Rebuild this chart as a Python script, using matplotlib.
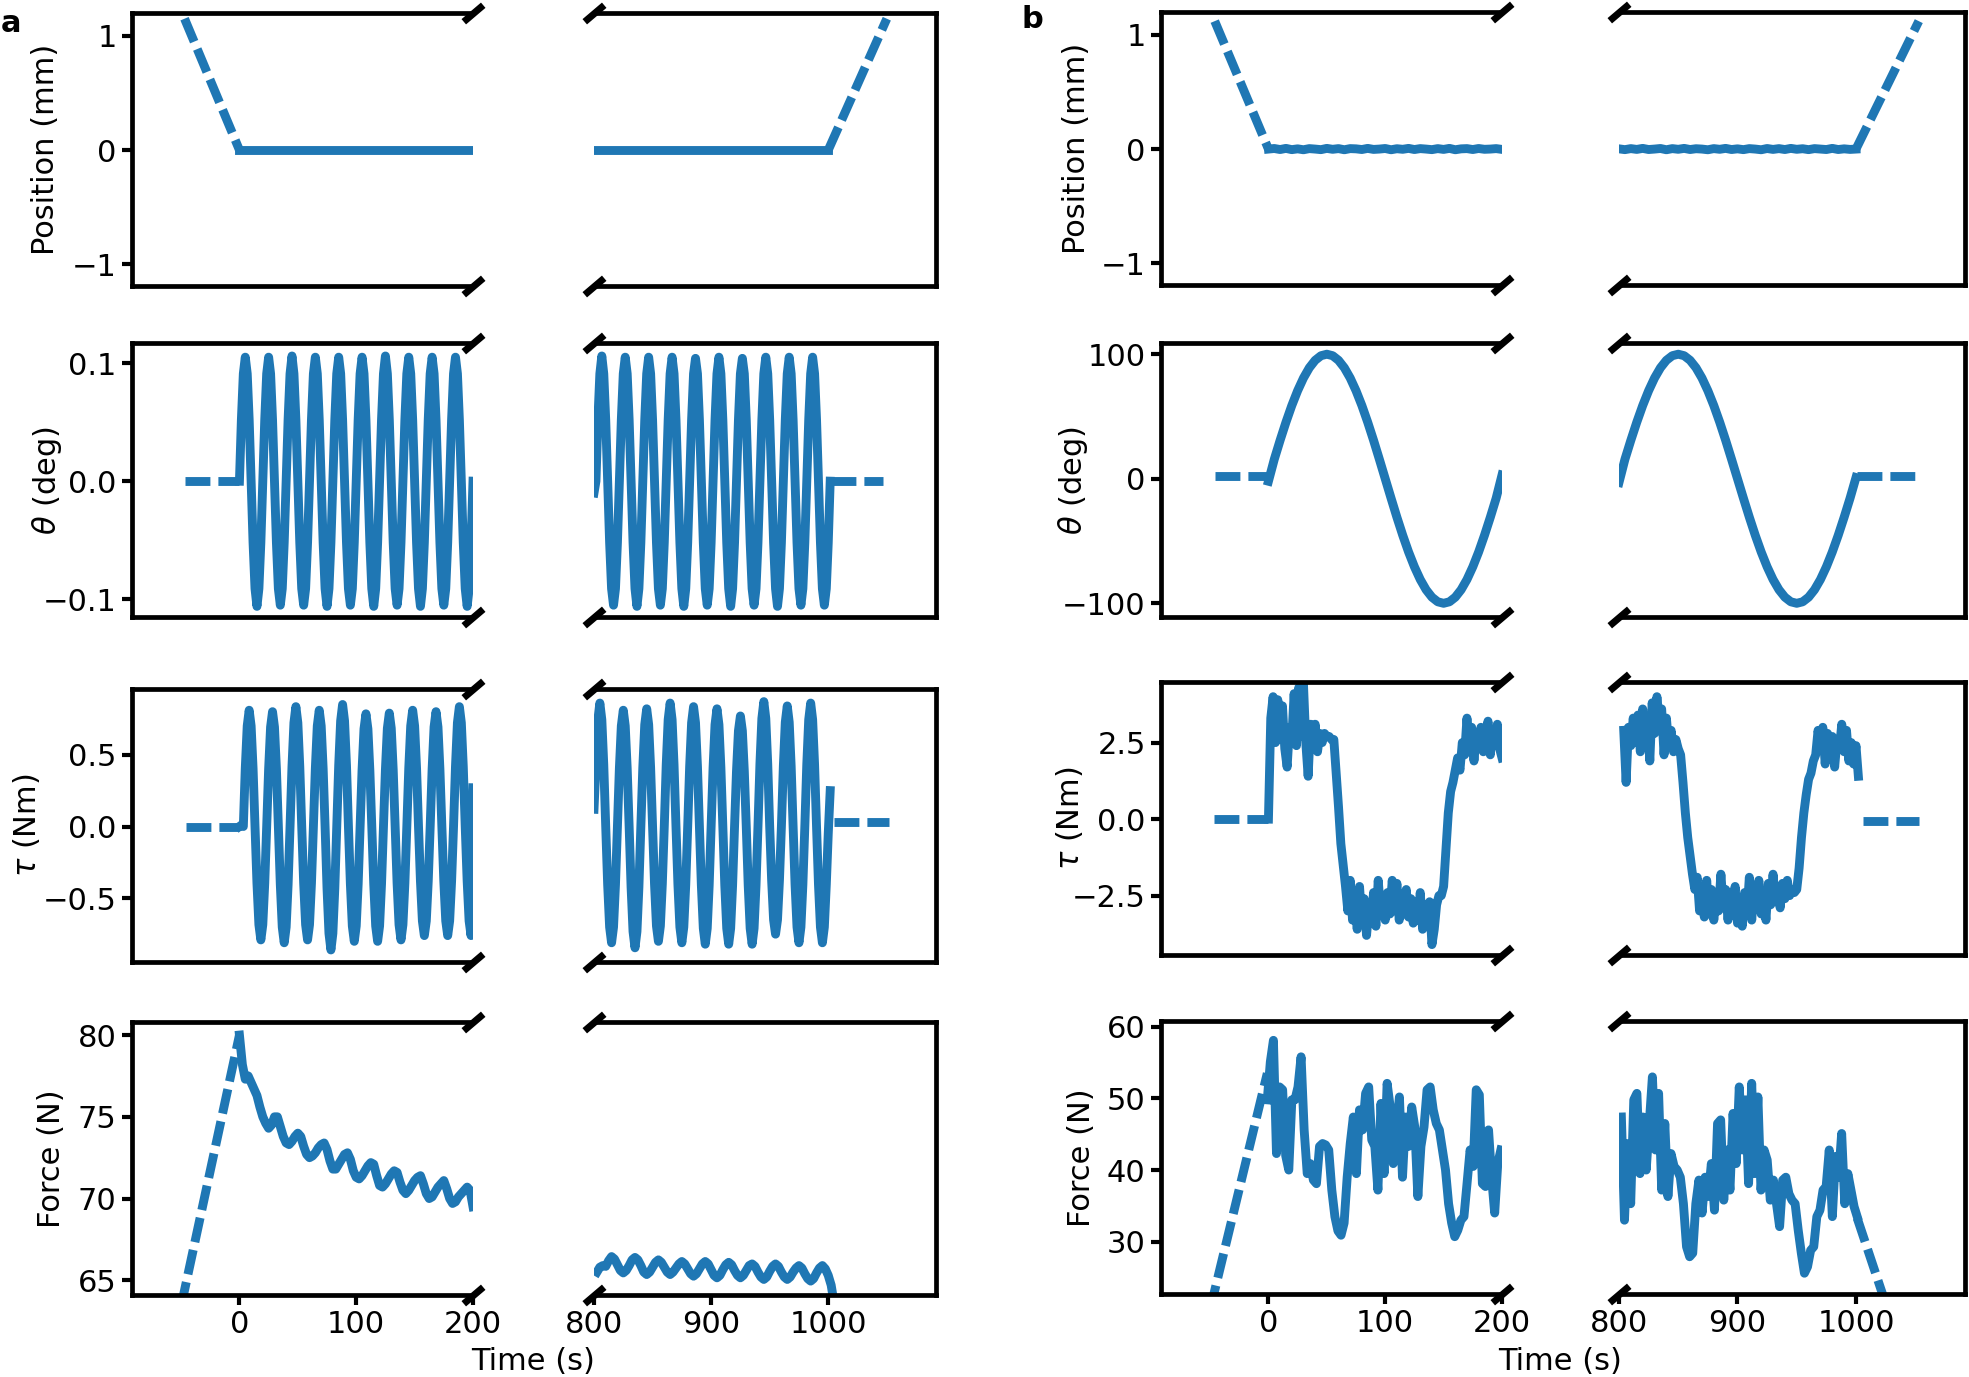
import numpy as np
import matplotlib
matplotlib.use("Agg")
import matplotlib.pyplot as plt

W, H = 1969, 1377
BLUE = "#1f77b4"
LW = 6.4
DASH = (0, (2.8, 0.9))

# ---------------- panel a ----------------
# position (mm)
a_pos_in_t, a_pos_in = [-47, 0], [1.15, 0.0]
a_pos_l_t, a_pos_l = [0, 200], [0.0, 0.0]
a_pos_r_t, a_pos_r = [800, 1000], [0.0, 0.0]
a_pos_out_t, a_pos_out = [1000, 1050], [0.0, 1.15]

# theta (deg), sampled every 5/3 s
a_th_in_t, a_th_in = [-47, 0], [0.0, 0.0]
a_th_l = [
    0.0, 0.052, 0.091, 0.105, 0.091, 0.052, 0.0, -0.052, -0.091, -0.106, -0.091, -0.052,
    0.0, 0.052, 0.091, 0.105, 0.091, 0.052, 0.0, -0.052, -0.091, -0.105, -0.091, -0.052,
    0.0, 0.052, 0.091, 0.106, 0.091, 0.052, 0.0, -0.052, -0.091, -0.105, -0.091, -0.052,
    0.0, 0.052, 0.091, 0.105, 0.091, 0.052, 0.0, -0.052, -0.091, -0.106, -0.091, -0.052,
    0.0, 0.052, 0.091, 0.105, 0.091, 0.052, 0.0, -0.052, -0.091, -0.105, -0.091, -0.052,
    0.0, 0.052, 0.091, 0.105, 0.091, 0.052, 0.0, -0.052, -0.091, -0.106, -0.091, -0.052,
    0.0, 0.052, 0.091, 0.106, 0.091, 0.052, 0.0, -0.052, -0.091, -0.105, -0.091, -0.052,
    0.0, 0.052, 0.091, 0.105, 0.091, 0.052, 0.0, -0.052, -0.091, -0.106, -0.091, -0.052,
    0.0, 0.052, 0.091, 0.105, 0.091, 0.052, 0.0, -0.052, -0.091, -0.105, -0.091, -0.052,
    0.0, 0.052, 0.091, 0.105, 0.091, 0.052, 0.0, -0.052, -0.091, -0.106, -0.091, -0.052,
    0.0]
a_th_r = [
    -0.01,
    0.0, 0.052, 0.091, 0.106, 0.091, 0.052, 0.0, -0.052, -0.091, -0.105, -0.091, -0.052,
    0.0, 0.052, 0.091, 0.105, 0.091, 0.052, 0.0, -0.052, -0.091, -0.106, -0.091, -0.052,
    0.0, 0.052, 0.091, 0.105, 0.091, 0.052, 0.0, -0.052, -0.091, -0.105, -0.091, -0.052,
    0.0, 0.052, 0.091, 0.105, 0.091, 0.052, 0.0, -0.052, -0.091, -0.106, -0.091, -0.052,
    0.0, 0.052, 0.091, 0.104, 0.091, 0.052, 0.0, -0.052, -0.091, -0.105, -0.091, -0.052,
    0.0, 0.052, 0.091, 0.105, 0.091, 0.052, 0.0, -0.052, -0.091, -0.106, -0.091, -0.052,
    0.0, 0.052, 0.091, 0.104, 0.091, 0.052, 0.0, -0.052, -0.091, -0.105, -0.091, -0.052,
    0.0, 0.052, 0.091, 0.105, 0.091, 0.052, 0.0, -0.052, -0.091, -0.106, -0.091, -0.052,
    0.0, 0.052, 0.091, 0.105, 0.091, 0.052, 0.0, -0.052, -0.091, -0.105, -0.091, -0.052,
    0.0, 0.052, 0.091, 0.105, 0.091, 0.052, 0.0, -0.052, -0.091, -0.105, -0.091, -0.052,
    0.0]
a_th_out_t, a_th_out = [1002, 1047], [0.0, 0.0]

# tau (Nm), sampled every 5/3 s
a_tau_in_t, a_tau_in = [-46, 0], [0.0, 0.0]
a_tau_l = [
    0.0, 0.01,
    0.0, 0.405, 0.701, 0.81, 0.701, 0.405, 0.0, -0.395, -0.684, -0.79, -0.684, -0.395,
    0.0, 0.40, 0.693, 0.80, 0.693, 0.40, 0.0, -0.405, -0.701, -0.81, -0.701, -0.405,
    0.0, 0.418, 0.723, 0.835, 0.723, 0.418, 0.0, -0.395, -0.684, -0.79, -0.684, -0.395,
    0.0, 0.405, 0.701, 0.81, 0.701, 0.405, 0.0, -0.43, -0.745, -0.86, -0.745, -0.43,
    0.0, 0.425, 0.736, 0.85, 0.736, 0.425, 0.0, -0.40, -0.693, -0.80, -0.693, -0.40,
    0.0, 0.393, 0.68, 0.785, 0.68, 0.393, 0.0, -0.40, -0.693, -0.80, -0.693, -0.40,
    0.0, 0.395, 0.684, 0.79, 0.684, 0.395, 0.0, -0.395, -0.684, -0.79, -0.684, -0.395,
    0.0, 0.405, 0.701, 0.81, 0.701, 0.405, 0.0, -0.38, -0.658, -0.76, -0.658, -0.38,
    0.0, 0.40, 0.693, 0.80, 0.693, 0.40, 0.0, -0.38, -0.658, -0.76, -0.658, -0.38,
    0.0, 0.418, 0.723, 0.835, 0.723, 0.418, 0.0, -0.38, -0.658, -0.76, 0.27]
a_tau_r = [
    0.12, 0.43, 0.745, 0.86, 0.745, 0.43, 0.0, -0.405, -0.701, -0.81, -0.701, -0.405,
    0.0, 0.405, 0.701, 0.81, 0.701, 0.405, 0.0, -0.423, -0.732, -0.845, -0.732, -0.423,
    0.0, 0.41, 0.71, 0.82, 0.71, 0.41, 0.0, -0.40, -0.693, -0.80, -0.693, -0.40,
    0.0, 0.43, 0.745, 0.86, 0.745, 0.43, 0.0, -0.405, -0.701, -0.81, -0.701, -0.405,
    0.0, 0.418, 0.723, 0.835, 0.723, 0.418, 0.0, -0.41, -0.71, -0.82, -0.71, -0.41,
    0.0, 0.41, 0.71, 0.82, 0.71, 0.41, 0.0, -0.41, -0.71, -0.82, -0.71, -0.41,
    0.0, 0.385, 0.667, 0.77, 0.667, 0.385, 0.0, -0.41, -0.71, -0.82, -0.71, -0.41,
    0.0, 0.435, 0.753, 0.87, 0.753, 0.435, 0.0, -0.375, -0.65, -0.75, -0.65, -0.375,
    0.0, 0.42, 0.727, 0.84, 0.727, 0.42, 0.0, -0.405, -0.701, -0.81, -0.701, -0.405,
    0.0, 0.43, 0.745, 0.86, 0.745, 0.43, 0.0, -0.405, -0.701, -0.81, -0.701, -0.405,
    -0.05, 0.25]
a_tau_out_t, a_tau_out = [1005, 1052], [0.03, 0.03]

# force (N), sampled every 2.5 s
a_f_in_t, a_f_in = [-50, 0], [63.4, 80.0]
a_f_l = [
    80.0, 78.2, 77.3, 77.5, 77.1, 76.7, 76.3, 75.6, 75.0, 74.6, 74.3, 74.5, 75.0,
    75.0, 74.4, 73.8, 73.4, 73.3, 73.5, 73.8, 74.0, 73.8, 73.2, 72.7, 72.5, 72.6,
    72.8, 73.1, 73.3, 73.4, 73.0, 72.3, 71.8, 71.8, 72.1, 72.4, 72.7, 72.8, 72.4,
    71.7, 71.3, 71.2, 71.4, 71.7, 72.0, 72.2, 72.1, 71.4, 70.8, 70.7, 70.9, 71.2,
    71.5, 71.7, 71.6, 71.0, 70.5, 70.3, 70.5, 70.8, 71.1, 71.3, 71.4, 70.9, 70.3,
    70.0, 70.1, 70.4, 70.7, 70.9, 71.1, 70.6, 70.0, 69.7, 69.8, 70.1, 70.3, 70.5,
    70.7, 70.5, 69.5]
a_f_r = [
    65.5, 65.8, 65.9, 65.85, 66.2, 66.45,
    66.3, 65.95, 65.6, 65.45, 65.6, 65.9, 66.25, 66.4,
    66.25, 65.9, 65.5, 65.35, 65.5, 65.8, 66.1, 66.25,
    66.1, 65.8, 65.5, 65.35, 65.5, 65.75, 66.0, 66.15,
    66.0, 65.7, 65.4, 65.25, 65.4, 65.7, 66.0, 66.15,
    66.0, 65.65, 65.3, 65.15, 65.3, 65.65, 65.95, 66.1,
    65.95, 65.6, 65.3, 65.15, 65.3, 65.6, 65.9, 66.0,
    65.85, 65.5, 65.2, 65.05, 65.2, 65.55, 65.85, 66.0,
    65.85, 65.5, 65.2, 65.05, 65.2, 65.5, 65.75, 65.9,
    65.75, 65.4, 65.1, 64.95, 65.1, 65.45, 65.75, 65.9,
    65.7, 65.3, 64.7, 63.6]

# ---------------- panel b ----------------
b_pos_in_t, b_pos_in = [-46, 0], [1.12, 0.0]
b_pos_l = [0.0, 0.005, -0.004, 0.006, -0.005, 0.002, -0.006, 0.004, 0.0, -0.005,
           0.006, -0.002, 0.004, -0.006, 0.004, 0.002, -0.004, 0.006, -0.003, 0.0,
           0.005, -0.006, 0.003, -0.002, 0.006, -0.004, 0.004, 0.0, -0.005, 0.004,
           -0.003, 0.006, -0.006, 0.002, 0.004, -0.004, 0.005, -0.002, 0.0, 0.004, -0.003]
b_pos_r = [0.002, -0.005, 0.004, -0.003, 0.006, -0.004, 0.0, 0.005, -0.006, 0.004,
           -0.002, 0.006, -0.004, 0.003, 0.0, -0.006, 0.004, -0.002, 0.006, -0.004,
           0.002, -0.005, 0.004, 0.0, -0.006, 0.005, -0.003, 0.004, -0.004, 0.006,
           -0.002, 0.003, -0.005, 0.004, 0.0, -0.004, 0.006, -0.004, 0.002, -0.003, 0.0]
b_pos_out_t, b_pos_out = [1000, 1053], [0.0, 1.12]

# theta (deg), every 5 s
b_th_in_t, b_th_in = [-46, -1], [2.5, 2.5]
b_th_l = [-2, 15.6, 30.9, 45.4, 58.8, 70.7, 80.9, 89.1, 95.1, 98.8, 100, 98.8, 95.1,
          89.1, 80.9, 70.7, 58.8, 45.4, 30.9, 15.6, 0, -15.6, -30.9, -45.4, -58.8,
          -70.7, -80.9, -89.1, -95.1, -98.8, -100, -98.8, -95.1, -89.1, -80.9, -70.7,
          -58.8, -45.4, -30.9, -15.6, 3]
b_th_r = [-3, 15.6, 30.9, 45.4, 58.8, 70.7, 80.9, 89.1, 95.1, 98.8, 100, 98.8, 95.1,
          89.1, 80.9, 70.7, 58.8, 45.4, 30.9, 15.6, 0, -15.6, -30.9, -45.4, -58.8,
          -70.7, -80.9, -89.1, -95.1, -98.8, -100, -98.8, -95.1, -89.1, -80.9, -70.7,
          -58.8, -45.4, -30.9, -15.6, 1]
b_th_out_t, b_th_out = [1001, 1053], [2.0, 2.0]

# tau (Nm), every 2 s
b_tau_in_t, b_tau_in = [-47, 0], [0.0, 0.0]
b_tau_l = [
    0.0, 3.3, 4.0, 2.5, 3.9, 2.6, 3.7, 2.3, 1.7, 3.0, 2.6, 4.1, 2.4, 4.3, 2.7, 4.4,
    2.5, 1.4, 3.1, 2.4, 3.1, 2.2, 2.8, 2.5, 2.8, 2.7, 2.7, 2.6, 2.6, 1.5, 0.4, -0.8,
    -1.5, -2.2, -3.0, -2.0, -3.3, -2.5, -3.6, -2.2, -3.4, -2.6, -3.8, -2.9, -3.4, -2.4,
    -3.5, -2.0, -3.0, -2.6, -3.3, -2.4, -3.1, -2.0, -3.0, -2.1, -3.3, -2.5, -3.1, -2.3,
    -3.2, -2.6, -3.4, -2.7, -3.3, -2.4, -3.6, -2.8, -3.5, -2.7, -4.1, -3.6, -2.8, -2.5,
    -2.5, -2.2, -1.0, 0.2, 0.9, 1.2, 1.6, 2.0, 1.6, 2.5, 2.1, 3.3, 2.2, 3.0, 1.9, 2.8,
    2.4, 3.0, 2.2, 2.6, 3.2, 2.1, 2.9, 2.4, 3.1, 2.3, 2.0]
b_tau_r = [
    2.9, 1.2, 3.0, 2.4, 3.3, 2.5, 3.4, 2.2, 3.6, 2.6, 3.2, 1.9, 3.8, 2.8, 4.0, 3.2,
    3.6, 2.1, 3.3, 2.4, 2.9, 2.2, 2.6, 2.3, 2.1, 1.2, 0.2, -0.6, -1.2, -1.8, -2.3, -1.9,
    -3.0, -2.5, -3.2, -2.0, -3.1, -2.3, -3.3, -2.5, -3.0, -1.8, -2.9, -2.3, -3.3, -2.4,
    -2.9, -2.2, -3.4, -2.6, -3.5, -2.4, -3.1, -1.9, -3.3, -2.2, -2.9, -2.0, -3.1, -2.4,
    -3.3, -2.1, -2.8, -1.8, -2.7, -2.2, -2.9, -2.1, -2.6, -2.0, -2.5, -2.3, -2.4, -2.3,
    -1.6, -0.6, 0.2, 0.8, 1.3, 1.5, 1.9, 2.1, 2.9, 2.3, 3.0, 1.8, 2.8, 2.2, 2.7, 1.7,
    2.6, 2.3, 3.1, 2.2, 2.9, 1.9, 2.5, 1.8, 2.4, 1.4]
b_tau_out_t, b_tau_out = [1006, 1053], [-0.05, -0.05]

# force (N), every ~2.6 s
b_f_in_t, b_f_in = [-50, -1], [20.5, 53.5]
b_f_l = [
    49.8, 55.1, 58.1, 42.3, 51.6, 51.2, 42.0, 40.0, 49.8, 49.8, 51.6, 55.8, 45.6,
    39.5, 40.9, 38.6, 38.1, 43.3, 43.7, 43.5, 42.8, 37.2, 33.5, 31.5, 30.9, 32.6,
    39.0, 43.7, 47.4, 39.5, 48.4, 45.6, 50.7, 51.6, 44.2, 43.3, 37.2, 49.3, 39.5,
    52.1, 48.8, 40.9, 45.6, 50.2, 39.0, 47.4, 43.3, 48.8, 46.0, 36.3, 43.3, 46.0,
    51.2, 51.6, 48.4, 46.5, 45.6, 42.8, 40.0, 35.3, 32.6, 30.7, 31.6, 33.0, 33.5,
    38.1, 42.8, 40.5, 51.2, 50.5, 38.1, 37.7, 45.6, 39.0, 34.0, 40.9, 42.8]
b_f_r = [
    47.4, 33.0, 43.7, 35.3, 49.8, 50.7, 39.5, 47.4, 40.0, 46.5, 53.0, 42.8, 50.7,
    37.2, 46.5, 36.3, 42.3, 40.5, 40.0, 39.0, 35.3, 29.3, 27.9, 28.4, 35.3, 38.6,
    34.0, 39.0, 36.3, 40.9, 34.4, 46.5, 47.0, 35.8, 42.8, 37.2, 47.9, 40.9, 51.6,
    42.8, 49.8, 38.1, 52.1, 39.5, 50.2, 37.2, 42.8, 41.4, 35.8, 38.6, 35.3, 32.1,
    38.6, 39.0, 36.7, 35.8, 35.3, 31.6, 28.4, 25.6, 26.5, 28.8, 29.3, 33.5, 34.4,
    37.2, 37.7, 42.8, 33.5, 41.9, 39.0, 45.1, 35.3, 39.5, 37.2, 34.9, 33.5]
b_f_out_t, b_f_out = [1001, 1050], [33.3, 9.0]

# ---------------- layout (pixels) ----------------
a_cols = [(132, 473), (594, 936)]
b_cols = [(1161, 1502), (1619, 1965)]
a_rows = [(13, 286), (343, 617), (689, 962), (1022, 1295)]
b_rows = [(12, 285), (343, 617), (682, 955), (1021, 1294)]

ylabels = ["Position (mm)", r"$\theta$ (deg)", r"$\tau$ (Nm)", "Force (N)"]
a_ylims = [(-1.19, 1.2), (-0.115, 0.117), (-0.944, 0.958), (64.1, 80.8)]
b_ylims = [(-1.19, 1.2), (-111, 109), (-4.44, 4.48), (22.7, 60.8)]
a_yticks = [[-1, 0, 1], [-0.1, 0.0, 0.1], [-0.5, 0.0, 0.5], [65, 70, 75, 80]]
b_yticks = [[-1, 0, 1], [-100, 0, 100], [-2.5, 0.0, 2.5], [30, 40, 50, 60]]
a_labx = [-0.211, -0.199, -0.264, -0.194]
b_labx = [-0.205, -0.208, -0.223, -0.191]

STEP = 5 / 3
a_series = [
    (a_pos_in_t, a_pos_in, a_pos_l_t, a_pos_l, a_pos_r_t, a_pos_r, a_pos_out_t, a_pos_out),
    (a_th_in_t, a_th_in, np.linspace(0, 200, len(a_th_l)), a_th_l,
     np.linspace(800, 800 + STEP * (len(a_th_r) - 1), len(a_th_r)), a_th_r, a_th_out_t, a_th_out),
    (a_tau_in_t, a_tau_in, np.linspace(0, 200, len(a_tau_l)), a_tau_l,
     np.linspace(800, 800 + STEP * (len(a_tau_r) - 1), len(a_tau_r)), a_tau_r, a_tau_out_t, a_tau_out),
    (a_f_in_t, a_f_in, np.linspace(0, 200, len(a_f_l)), a_f_l,
     np.linspace(802.5, 1005, len(a_f_r)), a_f_r, None, None),
]
b_series = [
    (b_pos_in_t, b_pos_in, np.linspace(0, 200, len(b_pos_l)), b_pos_l,
     np.linspace(800, 1000, len(b_pos_r)), b_pos_r, b_pos_out_t, b_pos_out),
    (b_th_in_t, b_th_in, np.linspace(0, 200, len(b_th_l)), b_th_l,
     np.linspace(800, 1000, len(b_th_r)), b_th_r, b_th_out_t, b_th_out),
    (b_tau_in_t, b_tau_in, np.linspace(0, 200, len(b_tau_l)), b_tau_l,
     np.linspace(804, 1002, len(b_tau_r)), b_tau_r, b_tau_out_t, b_tau_out),
    (b_f_in_t, b_f_in, np.linspace(-1, 199, len(b_f_l)), b_f_l,
     np.linspace(802, 1001, len(b_f_r)), b_f_r, b_f_out_t, b_f_out),
]

plt.rcParams.update({"font.size": 22, "axes.linewidth": 3.4})
fig = plt.figure(figsize=(W / 100, H / 100), dpi=100)


def px_axes(x0, x1, y0, y1):
    return fig.add_axes([x0 / W, 1 - y1 / H, (x1 - x0) / W, (y1 - y0) / H])


def break_marks(axl, axr):
    d = 0.85
    kw = dict(marker=[(-1, -d), (1, d)], markersize=14, linestyle="none",
              color="k", mec="k", mew=5, clip_on=False, zorder=5)
    axl.plot([1, 1], [0, 1], transform=axl.transAxes, **kw)
    axr.plot([0, 0], [0, 1], transform=axr.transAxes, **kw)


def panel(cols, rows, series, ylims, yticks, labx):
    for i, (y0, y1) in enumerate(rows):
        axl = px_axes(cols[0][0], cols[0][1], y0, y1)
        axr = px_axes(cols[1][0], cols[1][1], y0, y1)
        tin, vin, tl, vl, tr, vr, tout, vout = series[i]
        axl.plot(tin, vin, color=BLUE, lw=LW, ls=DASH)
        axl.plot(tl, vl, color=BLUE, lw=LW)
        axr.plot(tr, vr, color=BLUE, lw=LW)
        if tout is not None:
            axr.plot(tout, vout, color=BLUE, lw=LW, ls=DASH)
        axl.set_xlim(-92, 200)
        axr.set_xlim(800, 1092)
        for ax in (axl, axr):
            ax.set_ylim(*ylims[i])
            ax.tick_params(length=7.5, width=3, labelsize=22)
        axl.spines["right"].set_visible(False)
        axr.spines["left"].set_visible(False)
        axr.tick_params(axis="y", left=False, labelleft=False)
        axl.set_yticks(yticks[i])
        axl.set_ylabel(ylabels[i], fontsize=22)
        axl.yaxis.set_label_coords(labx[i], 0.5)
        if i == len(rows) - 1:
            axl.set_xticks([0, 100, 200])
            axr.set_xticks([800, 900, 1000])
        else:
            for ax in (axl, axr):
                ax.tick_params(axis="x", bottom=False, labelbottom=False)
        break_marks(axl, axr)
    xc = (cols[0][1] + cols[1][0]) / 2
    fig.text(xc / W, 1 - 1361 / H, "Time (s)", ha="center", va="center", fontsize=22)


panel(a_cols, a_rows, a_series, a_ylims, a_yticks, a_labx)
panel(b_cols, b_rows, b_series, b_ylims, b_yticks, b_labx)
fig.text(1 / W, 1 - 32 / H, "a", fontsize=22, fontweight="bold", ha="left", va="baseline")
fig.text(1021 / W, 1 - 28 / H, "b", fontsize=22, fontweight="bold", ha="left", va="baseline")

fig.savefig("out.png", dpi=100)
